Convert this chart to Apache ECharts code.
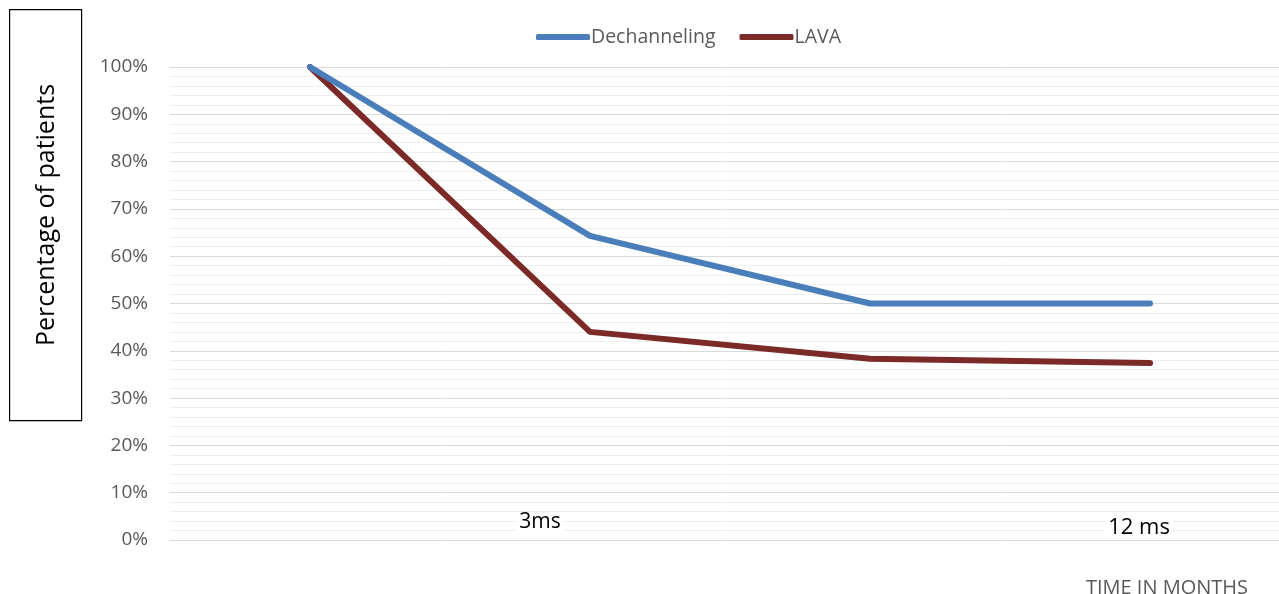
<!DOCTYPE html>
<html><head><meta charset="utf-8">
<script src="https://cdn.jsdelivr.net/npm/echarts@6/dist/echarts.min.js"></script>
<style>html,body{margin:0;padding:0;background:#fff}#c{width:1279px;height:594px}</style>
</head><body><div id="c"></div>
<script>
const categories = ['0', '3', '6', '12'];
const dechanneling = [100, 64.3, 50, 50];
const lava = [100, 44, 38.3, 37.4];
const yTicks = [0, 10, 20, 30, 40, 50, 60, 70, 80, 90, 100];

const chart = echarts.init(document.getElementById('c'));
const font = '"Open Sans", "Noto Sans", sans-serif';
const yMin = yTicks[0], yMax = yTicks[yTicks.length - 1];
chart.setOption({
  animation: false,
  grid: [
    { left: 170, top: 67, right: 0, height: 473 },
    { left: 310, top: 67, right: 129, height: 473 }
  ],
  legend: {
    top: 22, left: 531,
    itemWidth: 54, itemHeight: 6, itemGap: 24,
    icon: 'roundRect',
    textStyle: { color: '#595959', fontSize: 19.5, fontFamily: font, padding: [0, 0, 0, -4] },
    data: ['Dechanneling', 'LAVA']
  },
  xAxis: [
    { type: 'category', gridIndex: 0, data: categories, show: false },
    { type: 'category', gridIndex: 1, data: categories, boundaryGap: false,
      axisLine: { show: false }, axisTick: { show: false }, axisLabel: { show: false }, splitLine: { show: false } }
  ],
  yAxis: [
    { type: 'value', gridIndex: 0, min: yMin, max: yMax, interval: 10,
      axisLine: { show: false }, axisTick: { show: false },
      axisLabel: { formatter: v => v + '%', color: '#595959', fontSize: 19, fontFamily: font, margin: 22 },
      splitLine: { lineStyle: { color: '#d9d9d9', width: 1 } },
      minorTick: { show: false, splitNumber: 5 },
      minorSplitLine: { show: true, lineStyle: { color: '#eeeeee', width: 1 } } },
    { type: 'value', gridIndex: 1, min: yMin, max: yMax, interval: 10, show: false,
      splitLine: { show: false } }
  ],
  series: [
    { name: 'LAVA', type: 'line', xAxisIndex: 1, yAxisIndex: 1, data: lava, symbol: 'none', color: '#7b2a28',
      lineStyle: { width: 6, cap: 'round', join: 'round' } },
    { name: 'Dechanneling', type: 'line', xAxisIndex: 1, yAxisIndex: 1, data: dechanneling, symbol: 'none', color: '#4a7ebb',
      lineStyle: { width: 6, cap: 'round', join: 'round' } }
  ],
  graphic: [
    { type: 'rect', left: 9, top: 9, shape: { width: 72, height: 411 },
      style: { fill: '#fff', stroke: '#000', lineWidth: 1.2 } },
    { type: 'text', x: 47, y: 215, rotation: Math.PI / 2, z: 100,
      style: { text: 'Percentage of patients', fill: '#000', font: '25px ' + font, align: 'center', verticalAlign: 'middle' } },
    { type: 'text', x: 540, y: 522, z: 100,
      style: { text: '3ms', fill: '#000', font: '21px ' + font, align: 'center', verticalAlign: 'middle',
        backgroundColor: '#fff', padding: [0, 3], lineHeight: 20 } },
    { type: 'text', x: 1139, y: 528, z: 100,
      style: { text: '12 ms', fill: '#000', font: '22px ' + font, align: 'center', verticalAlign: 'middle',
        backgroundColor: '#fff', padding: [0, 3], lineHeight: 20 } },
    { type: 'text', x: 1167, y: 588, z: 100,
      style: { text: 'TIME IN MONTHS', fill: '#595959', font: '20px ' + font, align: 'center', verticalAlign: 'middle' } }
  ]
});
</script></body></html>
